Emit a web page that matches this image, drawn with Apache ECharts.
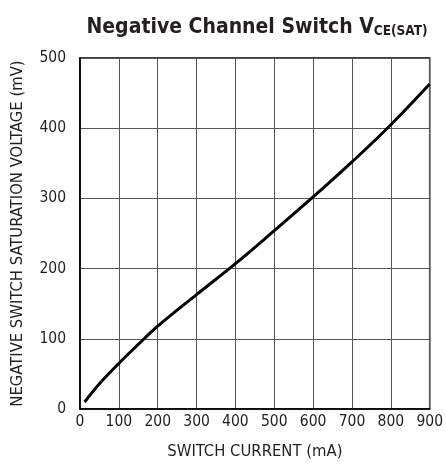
<!DOCTYPE html>
<html>
<head>
<meta charset="utf-8">
<script src="https://cdn.jsdelivr.net/npm/echarts@6/dist/echarts.min.js"></script>
<style>
html,body{margin:0;padding:0;background:#fff;}
#chart{width:446px;height:466px;}
</style>
</head>
<body>
<div id="chart"></div>
<script>
// switch current (mA)
var currentList = [12, 50, 100, 150, 200, 300, 400, 500, 600, 700, 800, 900];
// saturation voltage (mV)
var voltageList = [10, 36, 65, 92, 118, 163, 207, 254, 302, 352, 405, 463];
var xTicks = [0, 100, 200, 300, 400, 500, 600, 700, 800, 900];
var yTicks = [0, 100, 200, 300, 400, 500];

var font = '"DejaVu Sans Condensed", "Liberation Sans Narrow", "Liberation Sans", sans-serif';
var points = [];
for (var i = 0; i < currentList.length; i++) {
	points.push([currentList[i], voltageList[i]]);
}

var myChart = echarts.init(document.getElementById("chart"));
var option = {
	animation: false,
	backgroundColor: '#fff',
	title: {
		text: '{t|Negative Channel Switch V}{s|CE(SAT)}',
		left: 252,
		textAlign: 'center',
		top: 10,
		textStyle: {
			rich: {
				t: {fontFamily: font, fontWeight: 'bold', fontSize: 21, color: '#231f20', verticalAlign: 'bottom'},
				s: {fontFamily: font, fontWeight: 'bold', fontSize: 13.5, color: '#231f20', padding: [9, 0, 0, 0], verticalAlign: 'bottom'}
			}
		}
	},
	grid: {
		left: 80,
		right: 14,
		top: 58,
		bottom: 57,
		show: true,
		borderColor: '#000',
		borderWidth: 1.5
	},
	xAxis: {
		type: 'value',
		min: 0,
		max: xTicks[xTicks.length - 1],
		interval: 100,
		name: 'SWITCH CURRENT (mA)',
		nameLocation: 'middle',
		nameGap: 34,
		nameTextStyle: {fontFamily: font, fontSize: 16.5, color: '#231f20'},
		axisLine: {lineStyle: {color: '#000', width: 1.5}},
		axisTick: {show: false},
		axisLabel: {fontFamily: font, fontSize: 15.5, color: '#231f20', margin: 5},
		splitLine: {lineStyle: {color: '#555', width: 1}}
	},
	yAxis: {
		type: 'value',
		min: 0,
		max: yTicks[yTicks.length - 1],
		interval: 100,
		name: 'NEGATIVE SWITCH SATURATION VOLTAGE (mV)',
		nameLocation: 'middle',
		nameGap: 54,
		nameTextStyle: {fontFamily: font, fontSize: 16.5, color: '#231f20'},
		axisLine: {show: true, lineStyle: {color: '#000', width: 1.5}},
		axisTick: {show: false},
		axisLabel: {fontFamily: font, fontSize: 15.5, color: '#231f20', margin: 14},
		splitLine: {lineStyle: {color: '#555', width: 1}}
	},
	series: [{
		type: 'line',
		data: points,
		smooth: 0.4,
		symbol: 'none',
		lineStyle: {color: '#000', width: 3}
	}]
};
myChart.setOption(option, true);
</script>
</body>
</html>
